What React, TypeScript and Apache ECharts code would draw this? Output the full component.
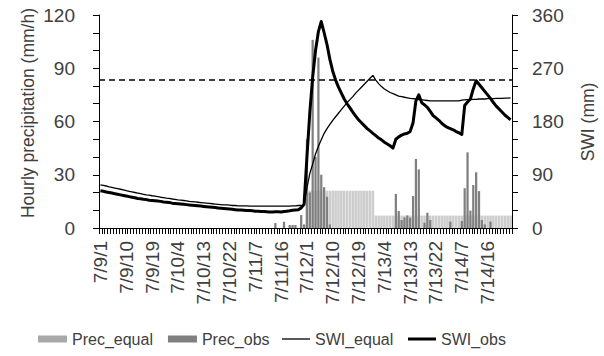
import React, { useEffect, useRef } from "react";
import * as echarts from "echarts";

const days = ["7/9", "7/10", "7/11", "7/12", "7/13", "7/14"];
const hoursOfDay = [1, 2, 3, 4, 5, 6, 7, 8, 9, 10, 11, 12, 13, 14, 15, 16, 17, 18, 19, 20, 21, 22, 23, 24];
const categories: string[] = [];
days.forEach((d) => hoursOfDay.forEach((h) => categories.push(`${d}/${h}`)));

const precEqual = [
  0, 0, 0, 0, 0, 0, 0, 0, 0, 0, 0, 0, 0, 0, 0, 0, 0, 0, 0, 0, 0, 0, 0, 0,
  0, 0, 0, 0, 0, 0, 0, 0, 0, 0, 0, 0, 0, 0, 0, 0, 0, 0, 0, 0, 0, 0, 0, 0,
  0, 0, 0, 0, 0, 0, 0, 0, 0, 0, 0, 0, 0, 0, 0, 0, 0, 0, 0, 0, 0, 0, 0, 0,
  21, 21, 21, 21, 21, 21, 21, 21, 21, 21, 21, 21, 21, 21, 21, 21, 21, 21, 21, 21, 21, 21, 21, 21,
  7, 7, 7, 7, 7, 7, 7, 7, 7, 7, 7, 7, 7, 7, 7, 7, 7, 7, 7, 7, 7, 7, 7, 7,
  7, 7, 7, 7, 7, 7, 7, 7, 7, 7, 7, 7, 7, 7, 7, 7, 7, 7, 7, 7, 7, 7, 7, 7,
];

const precObs = [
  0, 0, 0, 0, 0, 0, 0, 0, 0, 0, 0, 0, 0, 0, 0, 0, 0, 0, 0, 0, 0, 0, 0, 0,
  0, 0, 0, 0, 0, 0, 0, 0, 0, 0, 0, 0, 0, 0, 0, 0, 0, 0, 0, 0, 0, 0, 0, 0,
  0, 0, 0, 0, 0, 0, 0, 0, 0, 0, 0, 0, 0, 2.8, 0, 0, 3.5, 0, 1.7, 1.7, 1.7, 0, 7.3, 2,
  50, 20, 106, 40, 96, 30, 23, 17.6, 2, 0, 0, 0, 0, 0, 0, 0, 0, 0, 0, 0, 0, 0, 0, 0,
  0, 0, 0, 0, 0, 0, 0, 19.2, 9.6, 4.5, 6, 7.1, 5.8, 18, 38.9, 33, 0, 3, 8.6, 4.5, 0, 0, 0, 0,
  0, 0, 3.6, 0, 0, 0, 3.9, 22.4, 42.6, 9.8, 24.2, 31.4, 20.8, 4.5, 2, 0, 3.6, 0, 0, 0, 0, 0, 0, 0,
];

const swiEqual = [
  73, 72, 71, 69.5, 68.5, 67.5, 66.5, 65.5, 64.5, 63,
  62, 61, 60, 59, 58, 57, 56, 55.5, 54.5, 54,
  53, 52, 51.5, 50.5, 50, 49, 48.5, 47.5, 47, 46.5,
  46, 45, 44.5, 44, 43.5, 43, 42.5, 42, 41.5, 41,
  40.5, 40, 39.5, 39, 39, 38.5, 38, 38, 37.5, 37.5,
  37.5, 37.5, 37, 37, 37, 37, 37, 37, 37, 37,
  37, 37, 37, 37, 37, 37, 37, 37.5, 37.5, 38,
  38, 39, 68, 92, 108, 125, 138, 149, 160, 168,
  175, 182, 188, 194, 200, 206, 212, 217, 222, 228,
  233, 238, 243, 248, 253, 258, 250, 244, 239, 235,
  232, 229, 227, 225, 223, 222, 221, 220, 219, 218.5,
  218, 217, 216.5, 216, 215.5, 215, 215, 215, 215, 215,
  215, 215, 215, 215, 215, 215, 216, 216.5, 217, 217,
  217.5, 217.5, 218, 218, 218, 218.5, 218.5, 218.5, 219, 219,
  219, 219.5, 219.5, 220,
];

const swiObs = [
  63, 62, 61, 60, 59, 58, 57, 56, 55, 54,
  53, 52, 51, 50, 49.5, 48.5, 48, 47, 46.5, 46,
  45.5, 45, 44, 43.5, 43, 42, 41.5, 41, 40.5, 40,
  39.5, 39, 38.5, 38, 37.5, 37, 36.5, 36, 35.5, 35,
  34.5, 34, 33.5, 33, 32.5, 32, 31.5, 31, 30.5, 30.5,
  30, 29.5, 29.5, 29, 28.5, 28.5, 28, 28, 27.5, 27,
  27, 27.5, 27.5, 27, 28, 28.5, 29, 30, 30.5, 31,
  34, 40, 120, 195, 255, 300, 332, 349, 330, 310,
  285, 265, 250, 238, 228, 218, 210, 203, 196, 189,
  183, 178, 173, 168, 164, 160, 156, 152, 149, 145,
  142, 139, 135, 150, 154, 157, 159, 160, 163, 178,
  215, 225, 212, 208, 204, 197, 190, 186, 182, 177,
  173, 170, 168, 166, 163, 161, 158, 207, 213, 218,
  235, 249, 243, 237, 231, 225, 219, 212, 206, 201,
  196, 191, 187, 183,
];

const thresholdSWI = 250;
const leftTitle = "Hourly precipitation (mm/h)";
const rightTitle = "SWI (mm)";

const FONT = "Liberation Sans";
const TXT = "#404040";

export default function App() {
  const ref = useRef<HTMLDivElement>(null);
  useEffect(() => {
    if (!ref.current) return;
    const chart = echarts.init(ref.current, null, { renderer: "svg" });
    const legendText = { fontSize: 16, color: TXT, fontFamily: FONT };
    chart.setOption({
      animation: false,
      backgroundColor: "#fff",
      textStyle: { fontFamily: FONT },
      grid: { left: 99, right: 92, top: 15, bottom: 128, containLabel: false },
      legend: [
        {
          left: 33,
          top: 326,
          itemWidth: 29,
          itemHeight: 7,
          itemGap: 15,
          textStyle: legendText,
          data: [
            { name: "Prec_equal", icon: "rect", itemStyle: { color: "#a9a9a9" } },
            { name: "Prec_obs", icon: "rect", itemStyle: { color: "#7f7f7f" } },
          ],
        },
        {
          left: 277,
          top: 326,
          itemWidth: 28,
          itemHeight: 1.3,
          textStyle: legendText,
          data: [{ name: "SWI_equal", icon: "rect", itemStyle: { color: "#000" } }],
        },
        {
          left: 403,
          top: 326,
          itemWidth: 28,
          itemHeight: 3,
          textStyle: legendText,
          data: [{ name: "SWI_obs", icon: "rect", itemStyle: { color: "#000" } }],
        },
      ],
      graphic: [
        {
          type: "text",
          x: 28,
          y: 113,
          rotation: Math.PI / 2,
          style: {
            text: leftTitle,
            fontSize: 17.5,
            fontFamily: FONT,
            fill: TXT,
            align: "center",
            verticalAlign: "middle",
          },
        },
        {
          type: "text",
          x: 588,
          y: 122,
          rotation: Math.PI / 2,
          style: {
            text: rightTitle,
            fontSize: 17.5,
            fontFamily: FONT,
            fill: TXT,
            align: "center",
            verticalAlign: "middle",
          },
        },
      ],
      xAxis: [
        {
          type: "category",
          data: categories,
          position: "bottom",
          boundaryGap: true,
          axisLine: { show: true, lineStyle: { color: "#000", width: 1 } },
          axisTick: { show: true, interval: 0, length: 6, lineStyle: { color: "#000" } },
          axisLabel: {
            interval: 8,
            rotate: 90,
            margin: 13,
            fontSize: 19,
            color: TXT,
            fontFamily: FONT,
          },
          splitLine: { show: false },
        },
        {
          type: "category",
          data: categories,
          position: "top",
          boundaryGap: true,
          axisLine: { show: true, lineStyle: { color: "#000", width: 1 } },
          axisTick: { show: false },
          axisLabel: { show: false },
          splitLine: { show: false },
        },
      ],
      yAxis: [
        {
          type: "value",
          position: "left",
          min: 0,
          max: 120,
          interval: 10,
          axisLine: { show: true, lineStyle: { color: "#000", width: 1 } },
          axisTick: { show: true, length: 6, lineStyle: { color: "#000" } },
          axisLabel: {
            margin: 24,
            fontSize: 19,
            color: TXT,
            fontFamily: FONT,
            formatter: (v: number) => (v % 30 === 0 ? String(v) : ""),
          },
          splitLine: { show: false },
        },
        {
          type: "value",
          position: "right",
          min: 0,
          max: 360,
          interval: 30,
          axisLine: { show: true, lineStyle: { color: "#000", width: 1 } },
          axisTick: { show: true, length: 6, lineStyle: { color: "#000" } },
          axisLabel: {
            margin: 20,
            fontSize: 19,
            color: TXT,
            fontFamily: FONT,
            formatter: (v: number) => (v % 90 === 0 ? String(v) : ""),
          },
          splitLine: { show: false },
        },
      ],
      series: [
        {
          name: "Prec_equal",
          type: "bar",
          xAxisIndex: 0,
          yAxisIndex: 0,
          data: precEqual,
          barWidth: "88%",
          itemStyle: { color: "#cdcdcd" },
          z: 1,
        },
        {
          name: "Prec_obs",
          type: "bar",
          xAxisIndex: 1,
          yAxisIndex: 0,
          data: precObs,
          barWidth: "78%",
          itemStyle: { color: "#7f7f7f" },
          z: 2,
        },
        {
          name: "SWI_equal",
          type: "line",
          xAxisIndex: 0,
          yAxisIndex: 1,
          data: swiEqual,
          symbol: "none",
          showSymbol: false,
          lineStyle: { color: "#000", width: 1.3 },
          itemStyle: { color: "#000" },
          z: 3,
          markLine: {
            silent: true,
            symbol: ["none", "none"],
            label: { show: false },
            lineStyle: { color: "#000", width: 1.5, type: [6, 4] },
            data: [{ yAxis: thresholdSWI }],
          },
        },
        {
          name: "SWI_obs",
          type: "line",
          xAxisIndex: 0,
          yAxisIndex: 1,
          data: swiObs,
          symbol: "none",
          showSymbol: false,
          lineStyle: { color: "#000", width: 3, join: "round" },
          itemStyle: { color: "#000" },
          z: 4,
        },
      ],
    });
    return () => chart.dispose();
  }, []);
  return (
    <div
      ref={ref}
      style={{ position: "fixed", left: 0, top: 0, width: 604, height: 356, background: "#fff" }}
    />
  );
}
